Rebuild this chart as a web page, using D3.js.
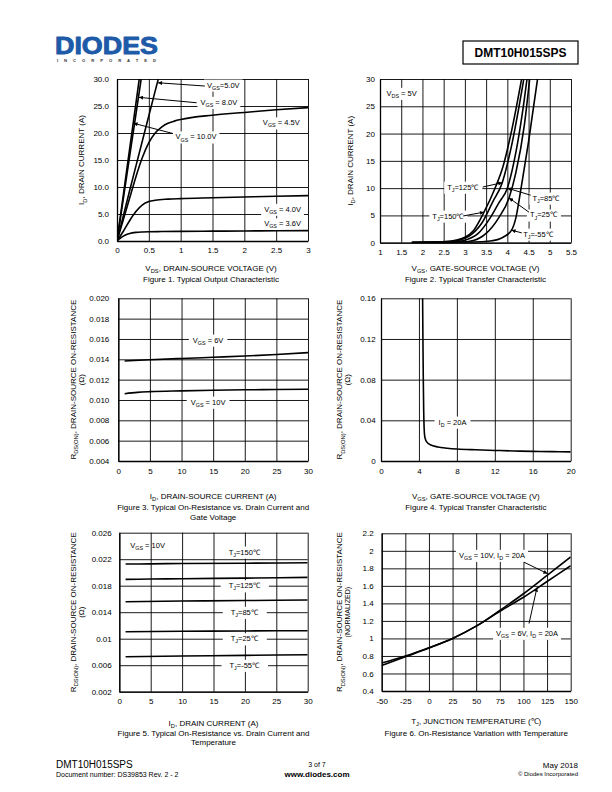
<!DOCTYPE html>
<html><head><meta charset="utf-8">
<script src="https://cdn.jsdelivr.net/npm/d3@7"></script>
<style>body{margin:0;background:#fff}svg{display:block}</style>
</head><body>
<svg id="s" width="612" height="792"></svg>
<script>
// ---------- Figure 1 data ----------
const f1XTicks=[0,0.5,1,1.5,2,2.5,3];
const f1XLabels=["0","0.5","1","1.5","2","2.5","3"];
const f1YTicks=[0,5,10,15,20,25,30];
const f1YLabels=["0.0","5.0","10.0","15.0","20.0","25.0","30.0"];
const f1Vgs36=[[0,0],[0.05,0.5],[0.1,0.9],[0.15,1.2],[0.2,1.4],[0.3,1.6],[0.4,1.68],[0.5,1.72],[0.7,1.75],[1,1.78],[1.5,1.82],[2,1.86],[2.5,1.89],[3,1.92]];
const f1Vgs40=[[0,0],[0.1,1.8],[0.2,3.8],[0.3,5.5],[0.4,6.7],[0.5,7.3],[0.6,7.55],[0.8,7.75],[1,7.85],[1.5,8.0],[2,8.15],[2.5,8.28],[3,8.4]];
const f1Vgs45=[[0,0],[0.1,4],[0.2,8],[0.3,12],[0.4,15.5],[0.5,18.2],[0.6,20],[0.7,21.1],[0.8,21.8],[0.9,22.2],[1,22.5],[1.5,23.3],[2,23.8],[2.5,24.3],[3,24.7]];
const f1Vgs50=[[0,0],[0.1,4.7],[0.2,9.4],[0.3,14],[0.4,18.6],[0.5,23.2],[0.6,27.8],[0.66,30.5]];
const f1Vgs80=[[0,0],[0.1,7.9],[0.2,15.8],[0.3,23.7],[0.39,30.8]];
const f1Vgs100=[[0,0],[0.1,8.6],[0.2,17.2],[0.3,25.7],[0.36,30.9]];
// ---------- Figure 2 data ----------
const f2XTicks=[1,1.5,2,2.5,3,3.5,4,4.5,5,5.5];
const f2XLabels=["1","1.5","2","2.5","3","3.5","4","4.5","5","5.5"];
const f2YTicks=[0,5,10,15,20,25,30];
const f2YLabels=["0","5","10","15","20","25","30"];
const f2Tj150=[[1.75,0.05],[2.3,0.1],[2.6,0.25],[2.8,0.5],[3.0,1.0],[3.2,2.2],[3.45,5.6],[3.7,9.8],[3.9,14],[4.1,20.5],[4.36,31]];
const f2Tj125=[[1.75,0.05],[2.5,0.1],[2.8,0.35],[3.1,1.2],[3.4,3.6],[3.65,7.4],[3.88,11],[4.1,17.8],[4.41,31]];
const f2Tj85=[[1.75,0.05],[2.7,0.1],[3.0,0.45],[3.3,1.6],[3.6,4.6],[3.8,7.3],[4.0,10],[4.2,16.5],[4.35,23.5],[4.48,31]];
const f2Tj25=[[1.75,0.05],[2.9,0.1],[3.2,0.4],[3.5,1.7],[3.8,4.6],[4.04,8.2],[4.2,12.8],[4.4,21.5],[4.54,31]];
const f2TjM55=[[1.75,0.05],[3.2,0.1],[3.6,0.3],[3.9,1.0],[4.1,2.3],[4.2,4.5],[4.32,9.8],[4.5,18.5],[4.73,31]];
// ---------- Figure 3 data ----------
const f3XTicks=[0,5,10,15,20,25,30];
const f3XLabels=["0","5","10","15","20","25","30"];
const f3YTicks=[0.004,0.006,0.008,0.010,0.012,0.014,0.016,0.018,0.020];
const f3YLabels=["0.004","0.006","0.008","0.010","0.012","0.014","0.016","0.018","0.020"];
const f3Vgs6=[[1,0.01384],[5,0.01395],[10,0.01408],[15,0.0142],[20,0.01432],[25,0.01448],[30,0.01466]];
const f3Vgs10=[[1,0.01062],[3,0.01075],[5,0.01082],[10,0.0109],[15,0.01096],[20,0.011],[25,0.01103],[30,0.01105]];
// ---------- Figure 4 data ----------
const f4XTicks=[0,4,8,12,16,20];
const f4XLabels=["0","4","8","12","16","20"];
const f4YTicks=[0,0.04,0.08,0.12,0.16];
const f4YLabels=["0","0.04","0.08","0.12","0.16"];
const f4Id20=[[4.38,0.17],[4.42,0.12],[4.46,0.08],[4.5,0.05],[4.55,0.032],[4.6,0.025],[4.7,0.021],[4.9,0.018],[5.2,0.016],[6,0.0138],[7,0.0126],[8,0.0118],[10,0.011],[12,0.0104],[14,0.0099],[16,0.0095],[18,0.0092],[20,0.009]];
// ---------- Figure 5 data ----------
const f5XTicks=[0,5,10,15,20,25,30];
const f5XLabels=["0","5","10","15","20","25","30"];
const f5YTicks=[0.002,0.006,0.010,0.014,0.018,0.022,0.026];
const f5YLabels=["0.002","0.006","0.01","0.014","0.018","0.022","0.026"];
const f5Tj150=[[1,0.02127],[5,0.0213],[10,0.02135],[20,0.0214],[30,0.02147]];
const f5Tj125=[[1,0.01896],[5,0.019],[10,0.01905],[20,0.01915],[30,0.01926]];
const f5Tj85=[[1,0.01558],[10,0.01568],[20,0.01576],[30,0.01584]];
const f5Tj25=[[1,0.01106],[10,0.01112],[20,0.01117],[30,0.01121]];
const f5TjM55=[[1,0.00728],[10,0.00738],[20,0.00748],[30,0.00758]];
// ---------- Figure 6 data ----------
const f6XTicks=[-50,-25,0,25,50,75,100,125,150];
const f6XLabels=["-50","-25","0","25","50","75","100","125","150"];
const f6YTicks=[0.4,0.6,0.8,1.0,1.2,1.4,1.6,1.8,2.0,2.2];
const f6YLabels=["0.4","0.6","0.8","1","1.2","1.4","1.6","1.8","2","2.2"];
const f6Vgs10=[[-50,0.69],[-25,0.79],[0,0.89],[25,1.0],[50,1.14],[75,1.32],[100,1.51],[125,1.72],[150,1.93]];
const f6Vgs6=[[-50,0.72],[-25,0.80],[0,0.895],[25,1.0],[50,1.14],[75,1.31],[100,1.47],[125,1.65],[150,1.83]];

// ---------- rendering ----------
const FONT='"Liberation Sans", Arial, Helvetica, sans-serif';
const svg=d3.select("#s");
svg.append("rect").attr("width",612).attr("height",792).attr("fill","#fff");
const defs=svg.append("defs");
defs.append("marker").attr("id","arr").attr("viewBox","0 0 10 10").attr("refX",10).attr("refY",5)
  .attr("markerWidth",5).attr("markerHeight",4).attr("markerUnits","userSpaceOnUse").attr("orient","auto")
  .append("path").attr("d","M0,0L10,5L0,10z").attr("fill","#000");

function rich(t,str,fs){
  const parts=str.split(/(_\{[^}]*\})/);
  let pend=0;
  parts.forEach(p=>{
    if(!p) return;
    if(p.startsWith("_{")){
      t.append("tspan").attr("dy",fs*0.28+pend).attr("font-size",fs*0.72).text(p.slice(2,-1));
      pend=-fs*0.28;
    } else {
      const ts=t.append("tspan").text(p).attr("font-size",fs);
      if(pend) ts.attr("dy",pend);
      pend=0;
    }
  });
  return t;
}
function txt(g,x,y,str,fs,anchor,weight){
  const t=g.append("text").attr("x",x).attr("y",y).attr("font-family",FONT).attr("font-size",fs)
    .attr("text-anchor",anchor||"middle").attr("fill","#000");
  if(weight) t.attr("font-weight",weight);
  rich(t,str,fs);
  return t;
}
let clipId=0;
function chart(o){
  const g=svg.append("g");
  const x=d3.scaleLinear().domain(o.xd).range([o.x0,o.x1]);
  const y=d3.scaleLinear().domain(o.yd).range([o.y1,o.y0]);
  const h=o.y1-o.y0, w=o.x1-o.x0;
  const gx=g.append("g").attr("transform",`translate(0,${o.y1})`)
    .call(d3.axisBottom(x).tickValues(o.xt).tickFormat((d,i)=>o.xl[i]).tickSize(-h).tickSizeOuter(0).tickPadding(o.xp));
  const gy=g.append("g").attr("transform",`translate(${o.x0},0)`)
    .call(d3.axisLeft(y).tickValues(o.yt).tickFormat((d,i)=>o.yl[i]).tickSize(-w).tickSizeOuter(0).tickPadding(o.yp));
  [gx,gy].forEach(a=>{
    a.selectAll(".tick line").attr("stroke","#000").attr("stroke-width",0.9);
    a.select(".domain").attr("stroke","#000").attr("stroke-width",1.3);
    a.selectAll("text").attr("font-family",FONT).attr("font-size",8).attr("fill","#000");
  });
  const id="c"+(clipId++);
  defs.append("clipPath").attr("id",id).append("rect").attr("x",o.x0).attr("y",o.y0).attr("width",w).attr("height",h);
  const boxes=g.append("g"), curves=g.append("g").attr("clip-path",`url(#${id})`), labs=g.append("g");
  const line=d3.line().x(d=>x(d[0])).y(d=>y(d[1])).curve(d3.curveMonotoneX);
  curves.selectAll("path").data(o.series).join("path").attr("d",d=>line(d))
    .attr("fill","none").attr("stroke","#000").attr("stroke-width",1.6).attr("stroke-linejoin","round");
  (o.labels||[]).forEach(l=>{
    const t=txt(labs,x(l.x),y(l.y),l.t,l.fs||7.5,"middle").attr("dy","0.35em");
    if(l.box!==false){
      const b=t.node().getBBox(), p=l.pad||3;
      boxes.append("rect").attr("x",b.x-p).attr("y",b.y-1).attr("width",b.width+2*p).attr("height",b.height+2).attr("fill","#fff");
    }
  });
  (o.arrows||[]).forEach(a=>{
    labs.append("line").attr("x1",x(a[0])).attr("y1",y(a[1])).attr("x2",x(a[2])).attr("y2",y(a[3]))
      .attr("stroke","#000").attr("stroke-width",1).attr("marker-end","url(#arr)");
  });
  const cx=o.cx||(o.x0+o.x1)/2;
  txt(g,cx,o.xtY,o.xTitle,8,"middle");
  o.captions.forEach(c=>txt(g,cx,c[1],c[0],8,"middle"));
  o.yTitles.forEach(yt=>{
    txt(g,0,0,yt[0],yt[2]||8,"middle").attr("dy","0.35em")
      .attr("transform",`translate(${yt[1]},${o.ycy||(o.y0+o.y1)/2}) rotate(-90)`);
  });
}

chart({x0:117,x1:308,y0:79,y1:241,xd:[0,3],yd:[0,30],xt:f1XTicks,xl:f1XLabels,yt:f1YTicks,yl:f1YLabels,xp:6,yp:8,
  series:[f1Vgs36,f1Vgs40,f1Vgs45,f1Vgs50,f1Vgs80,f1Vgs100],
  labels:[{x:1.67,y:28.9,t:"V_{GS}=5.0V"},{x:1.6,y:25.7,t:"V_{GS} = 8.0V"},{x:1.24,y:19.3,t:"V_{GS} = 10.0V"},
    {x:2.58,y:21.9,t:"V_{GS} = 4.5V"},{x:2.6,y:5.9,t:"V_{GS} = 4.0V"},{x:2.6,y:3.2,t:"V_{GS} = 3.6V"}],
  arrows:[[1.38,28.7,0.645,29.3],[1.25,25.6,0.345,26.6],[0.88,19.9,0.26,21.8]],
  xTitle:"V_{DS}, DRAIN-SOURCE VOLTAGE (V)",xtY:271,captions:[["Figure 1. Typical Output Characteristic",282]],
  yTitles:[["I_{D}, DRAIN CURRENT (A)",81.5]],cx:211});

chart({x0:380,x1:571,y0:79,y1:242.7,xd:[1,5.5],yd:[0,30],xt:f2XTicks,xl:f2XLabels,yt:f2YTicks,yl:f2YLabels,xp:6.3,yp:5,
  series:[f2Tj150,f2Tj125,f2Tj85,f2Tj25,f2TjM55],
  labels:[{x:1.51,y:27.4,t:"V_{DS} = 5V"},{x:2.95,y:10.2,t:"T_{J}=125℃"},{x:4.91,y:8.2,t:"T_{J}=85℃"},
    {x:4.85,y:5.1,t:"T_{J}=25℃"},{x:2.6,y:4.9,t:"T_{J}=150℃"},{x:4.72,y:1.6,t:"T_{J}=-55℃"}],
  arrows:[[3.42,10.2,3.88,11],[4.55,8.7,4.0,10],[4.51,5.6,4.04,8.2],[2.96,4.9,3.45,5.6],[4.34,1.8,4.1,2.3]],
  xTitle:"V_{GS}, GATE-SOURCE VOLTAGE (V)",xtY:271,captions:[["Figure 2. Typical Transfer Characteristic",282]],
  yTitles:[["I_{D}, DRAIN CURRENT (A)",350]]});

chart({x0:118.3,x1:308,y0:298.3,y1:461,xd:[0,30],yd:[0.004,0.020],xt:f3XTicks,xl:f3XLabels,yt:f3YTicks,yl:f3YLabels,xp:7.8,yp:9,
  series:[f3Vgs6,f3Vgs10],
  labels:[{x:14.2,y:0.0159,t:"V_{GS} = 6V",pad:4},{x:14.2,y:0.0098,t:"V_{GS} = 10V",pad:4}],
  xTitle:"I_{D}, DRAIN-SOURCE CURRENT (A)",xtY:499,captions:[["Figure 3. Typical On-Resistance vs. Drain Current and",510],["Gate Voltage",519.5]],
  yTitles:[["R_{DS(ON)}, DRAIN-SOURCE ON-RESISTANCE",73],["(Ω)",81]]});

chart({x0:381,x1:570.7,y0:298.3,y1:461,xd:[0,20],yd:[0,0.16],xt:f4XTicks,xl:f4XLabels,yt:f4YTicks,yl:f4YLabels,xp:7.8,yp:5.3,
  series:[f4Id20],
  labels:[{x:7.54,y:0.0384,t:"I_{D} = 20A",pad:4}],
  xTitle:"V_{GS}, GATE-SOURCE VOLTAGE (V)",xtY:499,captions:[["Figure 4. Typical Transfer Characteristic",510]],
  yTitles:[["R_{DS(ON)}, DRAIN-SOURCE ON-RESISTANCE",339.5],["(Ω)",347.5]]});

chart({x0:119.3,x1:307.7,y0:532.7,y1:691.7,xd:[0,30],yd:[0.002,0.026],xt:f5XTicks,xl:f5XLabels,yt:f5YTicks,yl:f5YLabels,xp:7,yp:7.6,
  series:[f5Tj150,f5Tj125,f5Tj85,f5Tj25,f5TjM55],
  labels:[{x:4.5,y:0.02414,t:"V_{GS} = 10V",box:false},{x:19.9,y:0.0231,t:"T_{J}=150℃",pad:8},{x:19.9,y:0.018,t:"T_{J}=125℃",pad:8},
    {x:19.9,y:0.014,t:"T_{J}=85℃",pad:8},{x:19.9,y:0.010,t:"T_{J}=25℃",pad:8},{x:19.9,y:0.006,t:"T_{J}=-55℃",pad:8}],
  xTitle:"I_{D}, DRAIN CURRENT (A)",xtY:726,captions:[["Figure 5. Typical On-Resistance vs. Drain Current and",736],["Temperature",745]],
  yTitles:[["R_{DS(ON)}, DRAIN-SOURCE ON-RESISTANCE",73],["(Ω)",81]]});

chart({x0:381.7,x1:570.7,y0:533.3,y1:691,xd:[-50,150],yd:[0.4,2.2],xt:f6XTicks,xl:f6XLabels,yt:f6YTicks,yl:f6YLabels,xp:7.8,yp:8,
  series:[f6Vgs10,f6Vgs6],
  labels:[{x:66.7,y:1.95,t:"V_{GS} = 10V, I_{D} = 20A",pad:3},{x:103.8,y:1.06,t:"V_{GS} = 6V, I_{D} = 20A",pad:3}],
  arrows:[[100.6,1.87,125.4,1.74],[105.9,1.17,114.3,1.58]],
  xTitle:"T_{J}, JUNCTION TEMPERATURE (℃)",xtY:724,captions:[["Figure 6. On-Resistance Variation with Temperature",736]],
  yTitles:[["R_{DS(ON)}, DRAIN-SOURCE ON-RESISTANCE",339.5],["(NORMALIZED)",347.5,7]]});

// ---------- header ----------
const hd=svg.append("g");
hd.append("text").attr("x",55).attr("y",53.5).attr("font-family",FONT).attr("font-weight","bold").attr("font-size",23.5)
  .attr("fill","#1d5aa8").attr("stroke","#1d5aa8").attr("stroke-width",0.9).attr("stroke-linejoin","round")
  .attr("textLength",103).attr("lengthAdjust","spacingAndGlyphs").text("DIODES");
hd.append("text").attr("x",57).attr("y",61.5).attr("font-family",FONT).attr("font-weight","bold").attr("font-size",4.2)
  .attr("fill","#333").attr("textLength",99).attr("lengthAdjust","spacing").text("INCORPORATED");
hd.append("rect").attr("x",463).attr("y",41).attr("width",115).attr("height",23).attr("fill","none").attr("stroke","#000").attr("stroke-width",1.2);
txt(hd,520.5,56.5,"DMT10H015SPS",12,"middle","bold");
// ---------- footer ----------
const ft=svg.append("g");
txt(ft,56,768,"DMT10H015SPS",10,"start");
txt(ft,56,777,"Document number: DS39853 Rev. 2 - 2",7,"start");
txt(ft,317,767,"3 of 7",7,"middle");
txt(ft,317,777,"www.diodes.com",8,"middle","bold");
txt(ft,578,768,"May 2018",8,"end");
txt(ft,578,776,"© Diodes Incorporated",6,"end");
</script>
</body></html>
